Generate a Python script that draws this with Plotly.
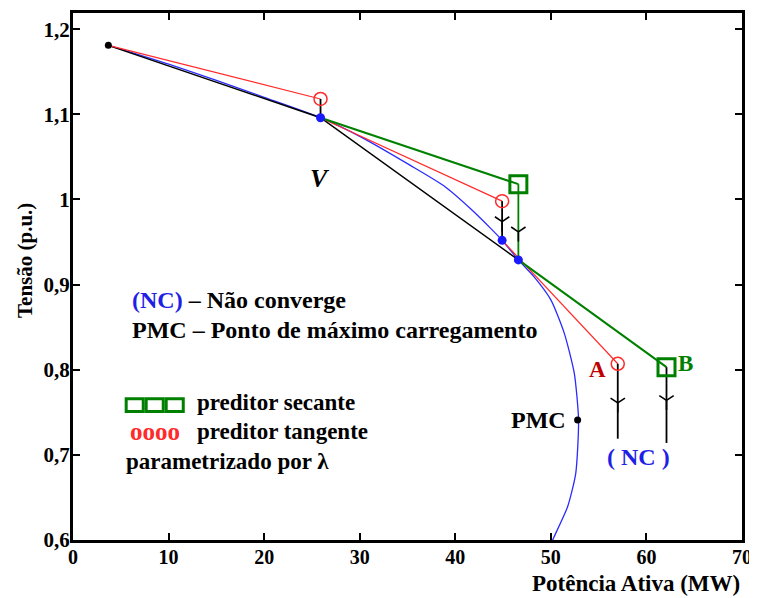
import plotly.graph_objects as go

# ---------------- data ----------------
# PV (nose) curve
curve_p = [3.7, 10, 15, 20, 25.9, 30.1, 35.3, 38.8, 41.6, 43.7, 44.9, 46.6, 48.25,
           50.0, 51.4, 52.45, 52.9, 52.6, 51.75, 50.35, 50.0]
curve_v = [1.181, 1.159, 1.140, 1.120, 1.096, 1.0735, 1.040, 1.016, 0.989, 0.966,
           0.952, 0.929, 0.909, 0.882, 0.843, 0.796, 0.741, 0.678, 0.639, 0.604, 0.595]

# operating points
start_pt = (3.7, 1.181)
corrected_p = [25.9, 44.9, 46.6]
corrected_v = [1.096, 0.952, 0.929]
pmc_pt = (52.8, 0.741)

# tangent predictor (red circles)
tangent_from = [(3.7, 1.181), (25.9, 1.096), (44.9, 0.952)]
tangent_pred = [(25.9, 1.118), (44.9, 0.998), (57.0, 0.807)]

# secant predictor (green squares)
secant_from = [(25.9, 1.096), (46.6, 0.929)]
secant_pred = [(46.6, 1.018), (62.1, 0.803)]

# secant chord (black)
chord_p = [3.7, 25.9, 46.6]
chord_v = [1.181, 1.096, 0.929]

# corrector steps: p, v from, v to, arrow tip, colour
corr_p = [25.9, 44.9, 46.6, 57.0, 62.1]
corr_from = [1.118, 0.998, 1.018, 0.807, 0.803]
corr_to = [1.096, 0.952, 0.929, 0.719, 0.714]
corr_tip = [None, 0.974, 0.962, 0.761, 0.764]
corr_col = ["black", "black", "#008000", "black", "black"]

x_ticks = [0, 10, 20, 30, 40, 50, 60, 70]
y_ticks = [0.6, 0.7, 0.8, 0.9, 1.0, 1.1, 1.2]
y_tick_text = ["0,6", "0,7", "0,8", "0,9", "1", "1,1", "1,2"]

FONT = "Liberation Serif"
BLUE = "#2b2bff"
RED = "#ff2a2a"
GREEN = "#008000"

fig = go.Figure()

# PV curve
fig.add_trace(go.Scatter(x=curve_p, y=curve_v, mode="lines",
                         line=dict(color=BLUE, width=1.3, shape="spline", smoothing=0.6),
                         hoverinfo="skip"))
# black chord
fig.add_trace(go.Scatter(x=chord_p, y=chord_v, mode="lines",
                         line=dict(color="black", width=1.5), hoverinfo="skip"))
# red tangent predictor lines
for (p0, v0), (p1, v1) in zip(tangent_from, tangent_pred):
    fig.add_trace(go.Scatter(x=[p0, p1], y=[v0, v1], mode="lines",
                             line=dict(color=RED, width=1.2), hoverinfo="skip"))
# green secant predictor lines
for (p0, v0), (p1, v1) in zip(secant_from, secant_pred):
    fig.add_trace(go.Scatter(x=[p0, p1], y=[v0, v1], mode="lines",
                             line=dict(color=GREEN, width=2), hoverinfo="skip"))
# corrector vertical lines
for p, v0, v1, c in zip(corr_p, corr_from, corr_to, corr_col):
    fig.add_trace(go.Scatter(x=[p, p], y=[v0, v1], mode="lines",
                             line=dict(color=c, width=1.8), hoverinfo="skip"))
# arrow heads
tips = [(p, t) for p, t in zip(corr_p, corr_tip) if t is not None]
fig.add_trace(go.Scatter(x=[t[0] for t in tips], y=[t[1] for t in tips], mode="markers",
                         marker=dict(symbol="y-down", size=12, color="black",
                                     line=dict(color="black", width=1.6)),
                         hoverinfo="skip"))
# red circles
fig.add_trace(go.Scatter(x=[p for p, v in tangent_pred], y=[v for p, v in tangent_pred],
                         mode="markers",
                         marker=dict(symbol="circle-open", size=13, color=RED,
                                     line=dict(width=1.5, color=RED)),
                         hoverinfo="skip"))
# green squares
fig.add_trace(go.Scatter(x=[p for p, v in secant_pred], y=[v for p, v in secant_pred],
                         mode="markers",
                         marker=dict(symbol="square-open", size=17, color=GREEN,
                                     line=dict(width=3, color=GREEN)),
                         hoverinfo="skip"))
# corrected (blue) points
fig.add_trace(go.Scatter(x=corrected_p, y=corrected_v, mode="markers",
                         marker=dict(symbol="circle", size=9, color="#1a1aff"),
                         hoverinfo="skip"))
# black points (start, PMC)
fig.add_trace(go.Scatter(x=[start_pt[0], pmc_pt[0]], y=[start_pt[1], pmc_pt[1]],
                         mode="markers",
                         marker=dict(symbol="circle", size=7, color="black"),
                         hoverinfo="skip"))


def ann(x, y, text, size=23, color="black", xanchor="left", ref="data", **kw):
    d = dict(x=x, y=y, text=text, showarrow=False, xanchor=xanchor, yanchor="middle",
             font=dict(family=FONT, size=size, color=color))
    if ref == "paper":
        d.update(xref="paper", yref="paper")
    d.update(kw)
    fig.add_annotation(**d)


ann(5.96, 0.882, '<b><span style="color:#1f1fe6">(NC)</span> – Não converge</b>', size=24)
ann(6.0, 0.847, "<b>PMC – Ponto de máximo carregamento</b>", size=24)
ann(12.8, 0.761, "<b>preditor secante</b>", size=23)
ann(5.8, 0.728, "<b>oooo</b>", size=25, color=RED)
ann(12.8, 0.727, "<b>preditor tangente</b>", size=23)
ann(5.3, 0.692, "<b>parametrizado por λ</b>", size=23)
ann(25.85, 1.025, "<b><i>V</i></b>", size=26, xanchor="center")
ann(51.75, 0.741, "<b>PMC</b>", size=24, xanchor="right")
ann(56.0, 0.800, "<b>A</b>", size=23, color="#c00000", xanchor="right")
ann(63.1, 0.807, "<b>B</b>", size=23, color=GREEN)
ann(59.2, 0.6975, "<b>( NC )</b>", size=24, color="#1f1fe6", xanchor="center")

ann(1.0, -0.083, "<b>Potência Ativa (MW)</b>", size=23, xanchor="right", ref="paper")
ann(-0.072, 0.531, "<b>Tensão (p.u.)</b>", size=21, xanchor="center", ref="paper",
    textangle=-90)

# legend glyph: three green squares
for i in range(3):
    x0 = 0.0795 + i * 0.0299
    fig.add_shape(type="rect", xref="paper", yref="paper",
                  x0=x0, x1=x0 + 0.0255, y0=0.244, y1=0.268,
                  line=dict(color=GREEN, width=3), fillcolor="rgba(0,0,0,0)")

# page has an 8px body margin; figure sized so the plot area lands as in the reference
fig.update_layout(
    width=749, height=590,
    margin=dict(l=65, r=15, t=5, b=58, autoexpand=False),
    paper_bgcolor="white", plot_bgcolor="white",
    showlegend=False,
    font=dict(family=FONT, color="black"),
)
fig.update_xaxes(range=[0, 70], tickvals=x_ticks, ticks="inside", ticklen=7, tickwidth=2,
                 tickcolor="black", showline=True, linewidth=3, linecolor="black",
                 mirror="ticks", showgrid=False, zeroline=False, automargin=False,
                 ticklabelstandoff=-3,
                 tickfont=dict(family=FONT, size=20, color="black", weight="bold"))
fig.update_yaxes(range=[0.6, 1.219], tickvals=y_ticks, ticktext=y_tick_text,
                 ticks="inside", ticklen=7, tickwidth=2, tickcolor="black",
                 showline=True, linewidth=3, linecolor="black", mirror="ticks",
                 showgrid=False, zeroline=False, ticklabelstandoff=-4, automargin=False,
                 tickfont=dict(family=FONT, size=21, color="black", weight="bold"))

fig.write_html("out.html")
